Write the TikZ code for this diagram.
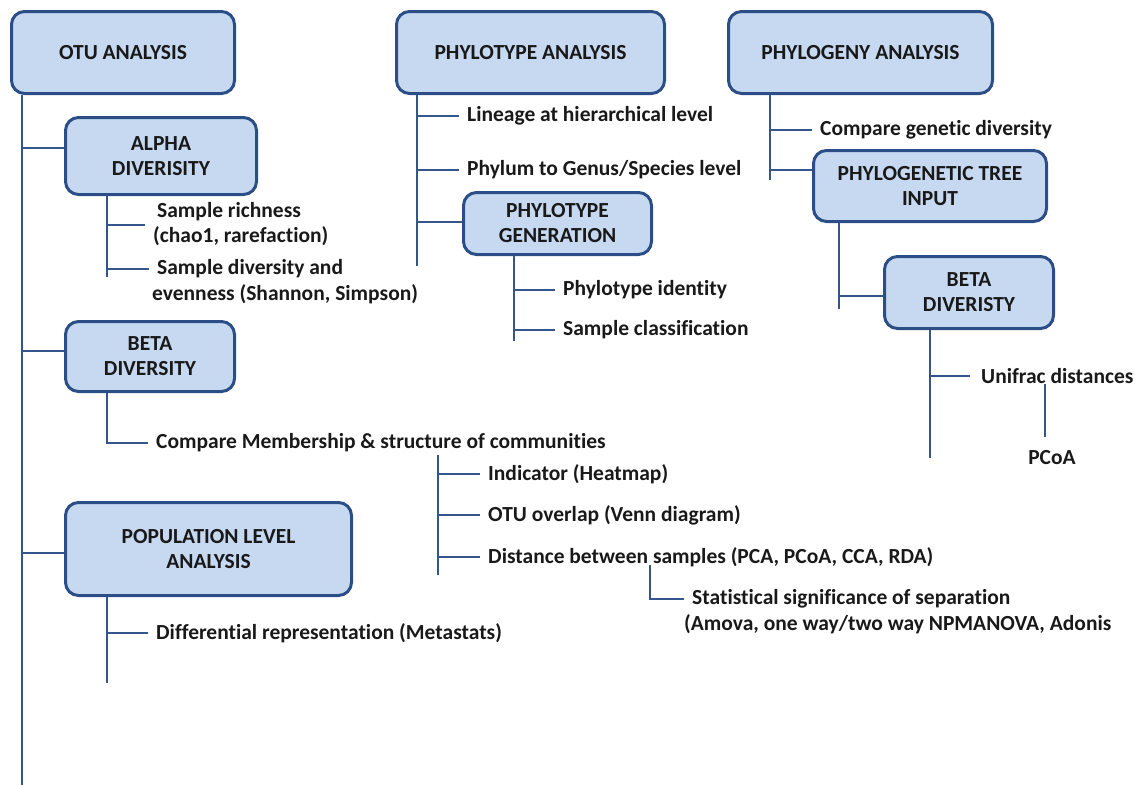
\documentclass[tikz,border=0pt]{standalone}
\usepackage{fontspec}
\setmainfont{Carlito}[Ligatures=NoCommon]
\definecolor{boxfill}{RGB}{198,217,241}
\definecolor{boxline}{RGB}{44,78,135}
\definecolor{linkline}{RGB}{52,86,140}
\definecolor{ink}{RGB}{25,25,25}

\begin{document}
\begin{tikzpicture}[x=1pt,y=-1pt,
  every node/.style={font=\fontsize{21.5}{25}\selectfont\bfseries, text=ink},
  box/.style={draw=boxline, fill=boxfill, line width=3pt, rounded corners=13pt,
              align=center, inner sep=0pt},
  leaf/.style={anchor=west, inner xsep=8pt, inner ysep=0pt, align=left},
  conn/.style={draw=linkline, line width=2pt}]
\useasboundingbox (0,0) rectangle (1135,785);

% ---------- boxes ----------
\node[box, minimum width=223pt, minimum height=82pt] (otu) at (123,52.5) {OTU ANALYSIS};
\node[box, minimum width=191pt, minimum height=77pt] (alpha) at (161,156) {ALPHA\\DIVERISITY};
\node[box, minimum width=169pt, minimum height=70pt] (beta) at (150,356.5) {BETA\\DIVERSITY};
\node[box, minimum width=286pt, minimum height=93pt] (pop) at (208.5,549) {POPULATION LEVEL\\ANALYSIS};
\node[box, minimum width=268pt, minimum height=82pt] (phylotype) at (530.5,52.5) {PHYLOTYPE ANALYSIS};
\node[box, minimum width=188pt, minimum height=62pt] (ptgen) at (557.5,223.5) {PHYLOTYPE\\GENERATION};
\node[box, minimum width=264pt, minimum height=82pt] (phylogeny) at (860.5,52.5) {PHYLOGENY ANALYSIS};
\node[box, minimum width=233pt, minimum height=71pt] (tree) at (930,186) {PHYLOGENETIC TREE\\INPUT};
\node[box, minimum width=169pt, minimum height=72pt] (beta2) at (969,292.5) {BETA\\DIVERISTY};

% ---------- leaf texts ----------
\node[leaf] (rich) at (145,224.5) {\hspace{4pt}Sample richness\\(chao1, rarefaction)};
\node[leaf] (div1) at (149,269) {Sample diversity and};
\node[leaf] (div2) at (144,294) {evenness (Shannon, Simpson)};
\node[leaf] (memb) at (148,443) {Compare Membership \& structure of communities};
\node[leaf] (ind) at (480,474) {Indicator (Heatmap)};
\node[leaf] (venn) at (480,515) {OTU overlap (Venn diagram)};
\node[leaf] (dist) at (480,557) {Distance between samples (PCA, PCoA, CCA, RDA)};
\node[leaf] (stat1) at (684,599) {Statistical significance of separation};
\node[leaf] (stat2) at (676,624) {(Amova, one way/two way NPMANOVA, Adonis};
\node[leaf] (diff) at (148,633) {Differential representation (Metastats)};
\node[leaf] (lineage) at (459,116) {Lineage at hierarchical level};
\node[leaf] (phylum) at (459,169.5) {Phylum to Genus/Species level};
\node[leaf] (ident) at (555,290) {Phylotype identity};
\node[leaf] (classif) at (555,330) {Sample classification};
\node[leaf] (cgd) at (812,129.5) {Compare genetic diversity};
\node[leaf] (unifrac) at (973,376) {Unifrac distances};
\node[inner sep=0pt] (pcoa) at (1052,458) {PCoA};

% ---------- OTU analysis tree ----------
\coordinate (trunkEnd) at (22,785);
\draw[conn] (otu.south -| trunkEnd) -- (trunkEnd);
\coordinate (bA) at (22,148);
\coordinate (bB) at (22,351);
\coordinate (bP) at (22,553);
\draw[conn] (bA) -- (bA -| alpha.west);
\draw[conn] (bB) -- (bB -| beta.west);
\draw[conn] (bP) -- (bP -| pop.west);

\coordinate (aEnd) at (107,277);
\draw[conn] (alpha.south -| aEnd) -- (aEnd);
\draw[conn] (rich.west -| aEnd) -- (rich.west);
\draw[conn] (div1.west -| aEnd) -- (div1.west);

\coordinate (bX) at (107,0);
\draw[conn] (beta.south -| bX) |- (memb.west);

\coordinate (mTop) at (438,455);
\coordinate (mEnd) at (438,575);
\draw[conn] (mTop) -- (mEnd);
\draw[conn] (ind.west -| mEnd) -- (ind.west);
\draw[conn] (venn.west -| mEnd) -- (venn.west);
\draw[conn] (dist.west -| mEnd) -- (dist.west);

\coordinate (dTop) at (650,565);
\draw[conn] (dTop) |- (stat1.west);

\coordinate (pEnd) at (107,683);
\draw[conn] (pop.south -| pEnd) -- (pEnd);
\draw[conn] (diff.west -| pEnd) -- (diff.west);

% ---------- phylotype analysis tree ----------
\coordinate (ptEnd) at (417,266);
\draw[conn] (phylotype.south -| ptEnd) -- (ptEnd);
\draw[conn] (lineage.west -| ptEnd) -- (lineage.west);
\draw[conn] (phylum.west -| ptEnd) -- (phylum.west);
\coordinate (bG) at (417,222);
\draw[conn] (bG) -- (bG -| ptgen.west);

\coordinate (gEnd) at (514,341);
\draw[conn] (ptgen.south -| gEnd) -- (gEnd);
\draw[conn] (ident.west -| gEnd) -- (ident.west);
\draw[conn] (classif.west -| gEnd) -- (classif.west);

% ---------- phylogeny analysis tree ----------
\coordinate (yEnd) at (770,180);
\draw[conn] (phylogeny.south -| yEnd) -- (yEnd);
\draw[conn] (cgd.west -| yEnd) -- (cgd.west);
\coordinate (bT) at (770,170);
\draw[conn] (bT) -- (bT -| tree.west);

\coordinate (tEnd) at (839,309);
\draw[conn] (tree.south -| tEnd) -- (tEnd);
\coordinate (bD) at (839,296);
\draw[conn] (bD) -- (bD -| beta2.west);

\coordinate (dEnd) at (930,458);
\draw[conn] (beta2.south -| dEnd) -- (dEnd);
\draw[conn] (unifrac.west -| dEnd) -- ([xshift=-3pt]unifrac.west);

\coordinate (uTop) at (1045,384);
\coordinate (uBot) at (1045,437);
\draw[conn] (uTop) -- (uBot);
\end{tikzpicture}
\end{document}
